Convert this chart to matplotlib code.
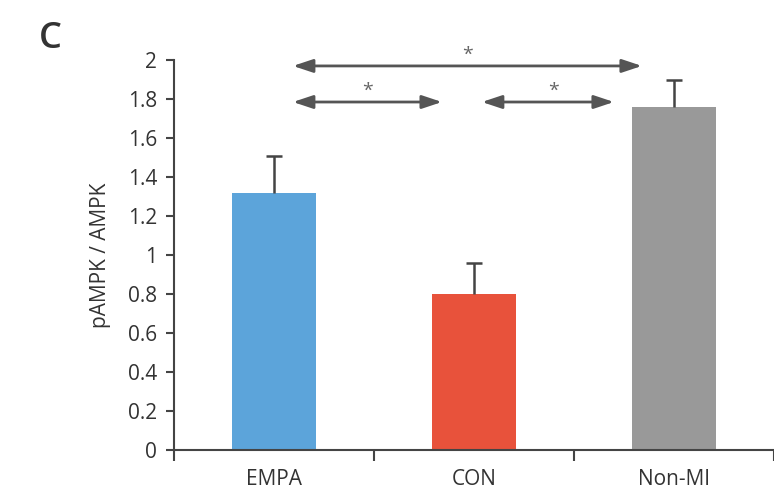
import numpy as np
import matplotlib.pyplot as plt

plt.rcParams['font.family'] = ['Open Sans', 'DejaVu Sans']

groups = ['EMPA', 'CON', 'Non-MI']
values = [1.32, 0.80, 1.76]
errors = [0.19, 0.16, 0.14]
colors = ['#5ca4da', '#e8523b', '#999999']

# comparisons: (start, end, height, star x)
comparisons = [(0.095, 1.84, 1.97, 0.97),
               (0.095, 0.84, 1.785, 0.47),
               (1.04, 1.70, 1.785, 1.40)]

ax_col = '#444444'

fig = plt.figure(figsize=(7.74, 4.97), dpi=100)
ax = fig.add_axes([0.2248, 0.0946, 0.775, 0.7845])

x = np.arange(len(groups))
ax.bar(x, values, width=0.42, color=colors, zorder=2)
_, caps, _ = ax.errorbar(x, values, yerr=[np.zeros(len(values)), errors], fmt='none',
                         ecolor=ax_col, elinewidth=1.8, capsize=6, capthick=1.8, zorder=3)
caps[0].set_visible(False)  # only upper cap

for x0, x1, h, sx in comparisons:
    ax.annotate('', xy=(x1, h), xytext=(x0, h),
                arrowprops=dict(arrowstyle='<|-|>,head_length=1.2,head_width=0.4',
                                color='#555555', lw=2, shrinkA=0, shrinkB=0))
    ax.text(sx, h + 0.01, '*', ha='center', va='bottom', fontsize=14, color='#666666')

ax.set_xlim(-0.5, 2.5)
ax.set_ylim(0, 2)
ax.set_yticks(np.arange(0, 2.01, 0.2))
ax.set_yticklabels(['0', '0.2', '0.4', '0.6', '0.8', '1', '1.2', '1.4', '1.6', '1.8', '2'])
ax.set_xticks([-0.5, 0.5, 1.5, 2.5])
ax.set_xticklabels([])
ax.set_xticks(x, minor=True)
ax.set_xticklabels(groups, minor=True)
ax.tick_params(axis='x', which='minor', length=0, pad=14, labelsize=15, colors='#333333')
ax.tick_params(axis='x', which='major', length=8, width=1.5, color=ax_col, direction='out')
ax.tick_params(axis='y', length=6, width=1.5, color=ax_col, labelsize=15, labelcolor='#333333', pad=6)

for s in ['top', 'right']:
    ax.spines[s].set_visible(False)
for s in ['left', 'bottom']:
    ax.spines[s].set_color(ax_col)
    ax.spines[s].set_linewidth(1.5)

ax.set_ylabel('pAMPK / AMPK', fontsize=15, color='#333333', labelpad=12)
fig.text(0.05, 0.922, 'C', fontsize=26, fontweight='semibold', color='#333333', ha='left', va='center')

fig.savefig('out.png', dpi=100)
